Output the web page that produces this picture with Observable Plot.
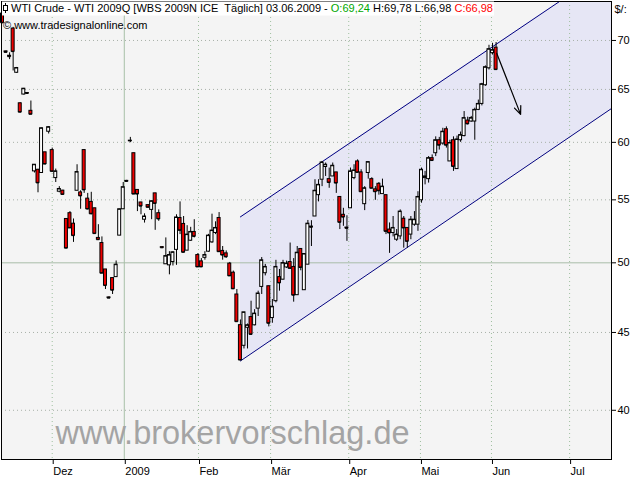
<!DOCTYPE html>
<html><head><meta charset="utf-8">
<script src="https://cdn.jsdelivr.net/npm/d3@7"></script>
<script src="https://cdn.jsdelivr.net/npm/@observablehq/plot@0.6"></script>
<style>body{margin:0;background:#fff}</style>
</head><body><div id="chart"></div>
<script>
// Daily candles, WTI 2009Q (trading-day index 0..139)
const open = [72.9,68.85,68.4,71.27,66.66,63.65,64.5,64.65,62.93,57.42,57.56,57.28,59.1,60.97,59.3,56.84,55.68,55.77,53.43,53.9,
53.05,55.76,55.62,59.3,55.1,54.83,54.3,51.92,51.52,49.5,47.45,48.86,48.93,52.1,54.22,56.6,60.1,59.02,55.83,54.78,
53.37,54.56,54.17,55.54,53.9,51.2,49.89,49.81,50.06,50.99,53.51,53.03,50.93,51.7,52.39,50.59,50.11,50.38,50.85,51.57,
52.31,53.51,50.91,50.72,49.94,49.26,47.66,45.5,44.1,45.32,46.06,45.49,46.65,48.21,49.22,48.26,45.99,47.18,48.93,48.74,
49.65,50.06,49.69,47.61,51.06,47.97,49.86,52.82,53.63,55.39,56.7,57.8,56.75,56.98,57.33,55.24,53.77,52.74,54.3,56.84,
58.29,57.33,54.64,57.28,56.75,55.88,56.35,55.48,55.39,52.58,52.31,51.78,52.04,53.45,52.71,52.18,52.97,52.97,54.96,56.84,
56.75,58.58,59.02,60.19,59.89,61.2,58.29,60.19,57.62,60.19,60.57,62.01,61.92,61.92,63.02,63.59,65.41,67.11,68.67,69.24];
const high = [73.2,68.9,68.7,71.4,67.2,63.7,65.1,64.7,63.87,58.0,57.6,61.3,59.1,61.45,59.48,57.62,56.11,55.8,53.45,54.03,
53.43,58.0,55.76,59.3,55.54,55.63,54.3,52.97,52.0,49.5,47.5,48.86,50.14,54.22,56.46,56.65,60.45,59.02,55.83,54.8,
53.85,54.6,54.9,55.55,54.17,51.25,51.92,50.85,50.85,53.77,54.83,53.63,52.89,52.76,53.37,50.7,50.32,50.85,52.2,53.82,
53.2,53.95,51.25,50.91,50.03,49.38,48.02,45.86,46.39,45.58,47.18,46.58,47.9,50.4,49.88,48.26,47.3,50.19,49.5,50.19,
50.13,51.52,50.32,51.25,51.06,50.67,53.31,53.29,56.7,56.7,58.29,58.15,57.71,58.15,57.33,55.24,54.3,53.69,57.71,58.0,
58.43,57.56,56.11,58.23,56.87,56.11,56.46,56.75,55.39,53.11,53.63,52.58,54.17,53.63,52.71,53.63,54.03,55.68,57.71,57.42,
58.72,58.87,60.5,60.45,61.29,61.42,60.19,60.5,60.57,60.94,62.86,62.33,62.4,63.18,63.96,65.6,67.35,69.49,69.7,69.78];
const low = [71.8,68.7,68.0,66.84,66.6,62.75,64.45,64.55,62.6,57.28,55.59,57.25,58.0,60.76,57.4,56.46,55.59,55.43,51.1,52.7,
51.57,55.76,54.22,55.54,54.17,53.77,52.26,51.72,49.2,48.02,47.35,47.66,48.9,52.1,54.2,56.5,59.97,55.48,54.03,53.77,
53.1,54.35,53.37,52.52,53.24,51.1,49.89,49.1,49.76,49.81,52.18,50.8,50.93,51.65,51.92,49.65,49.69,50.2,50.8,51.5,
52.18,50.8,50.2,50.35,49.0,48.07,45.74,43.16,43.89,43.89,44.81,45.45,46.1,47.66,49.02,45.38,45.63,47.06,47.9,48.74,
49.58,49.58,47.11,47.61,49.4,47.97,49.86,51.25,53.63,54.83,56.11,56.98,55.97,56.98,55.54,52.58,52.84,51.65,54.3,56.7,
57.33,55.68,54.11,56.75,55.97,54.96,55.39,55.48,52.18,50.72,52.0,51.65,51.78,51.12,51.12,51.78,52.84,52.44,54.72,56.26,
56.41,58.29,58.72,59.3,59.74,59.48,58.29,57.42,57.62,60.0,60.5,61.6,61.85,60.19,62.95,63.4,65.31,66.94,68.47,66.98];
const close = [71.9,68.75,68.3,68.83,67.14,62.8,65.07,64.6,62.6,58.0,56.43,61.29,58.06,61.39,57.42,57.42,55.91,55.45,51.12,52.71,
52.1,57.36,55.33,55.83,54.24,53.85,52.26,51.78,49.22,48.31,47.4,47.97,49.86,54.22,56.06,56.55,60.15,55.48,55.48,54.48,
53.63,54.38,54.88,54.7,53.43,51.15,50.51,50.59,50.8,53.55,52.52,50.8,52.18,52.39,52.04,49.69,49.69,50.59,52.1,52.5,
52.71,50.85,50.59,50.45,49.02,48.07,45.74,43.16,46.39,45.49,44.87,46.3,47.73,50.19,49.69,45.63,46.78,49.69,48.5,49.98,
49.94,49.58,47.61,50.77,49.65,50.67,53.05,52.76,55.76,56.26,58.2,58.0,56.46,57.91,56.41,53.16,53.58,52.68,57.42,57.5,
57.33,55.68,55.97,58.23,55.97,55.68,55.76,56.11,52.44,52.31,52.71,52.18,54.03,52.71,51.65,53.37,53.37,55.24,57.56,56.98,
58.58,58.37,60.19,59.74,60.97,59.74,59.94,57.85,60.26,60.66,62.24,61.7,62.24,63.02,63.59,65.51,67.22,69.08,68.98,66.98];

// Axis ticks (trading-day index of month starts) and labels
const monthTicks = [14, 34.3, 55.2, 75.5, 97.5, 117.7, 137.7, 159.7];
const monthLabels = ["Dez", "2009", "Feb", "Mär", "Apr", "Mai", "Jun", "Jul"];
const yearTick = 34.3;
const priceTicks = [40, 45, 50, 55, 60, 65, 70];

// Trend channel and arrow (index, price)
const channelX = [67, 171.5];
const channelLower = [43.1, 63.15];
const channelUpper = [53.6, 78.3];
const arrowX = [139.2, 145.9];
const arrowY = [68.64, 62.59];

const candles = open.map((o, i) => ({i, o, h: high[i], l: low[i], c: close[i], up: close[i] > o}));
const half = 0.42;

const chart = Plot.plot({
  width: 640, height: 480,
  marginLeft: 1, marginRight: 29, marginTop: 1, marginBottom: 21,
  style: {fontFamily: "'Liberation Sans', Arial, sans-serif", fontSize: "11px", background: "#fff", color: "#000"},
  x: {type: "linear", domain: [-0.28, 171.5], axis: null, label: null},
  y: {type: "log", domain: [37.13, 74.25], axis: null, label: null},
  marks: [
    Plot.frame({fill: "#f4f4f4", stroke: "none"}),
    Plot.areaY([0, 1], {x: i => channelX[i], y1: i => channelLower[i], y2: i => channelUpper[i], fill: "#e6e6f5", clip: true}),
    Plot.ruleX(monthTicks.filter(t => t !== yearTick), {stroke: "#9fbf9f", strokeDasharray: "1,3"}),
    Plot.ruleX([yearTick], {stroke: "#a8c0a8"}),
    Plot.ruleY(priceTicks.filter(p => p !== 50), {stroke: "#a8b0a8", strokeDasharray: "1,3"}),
    Plot.ruleY([50], {stroke: "#a8bca8"}),
    Plot.line([0, 1], {x: i => channelX[i], y: i => channelUpper[i], stroke: "#000080", strokeWidth: 1, clip: true}),
    Plot.line([0, 1], {x: i => channelX[i], y: i => channelLower[i], stroke: "#000080", strokeWidth: 1, clip: true}),
    Plot.ruleX(candles, {x: "i", y1: "l", y2: "h", stroke: "#000", strokeWidth: 1}),
    Plot.rect(candles, {x1: d => d.i - half, x2: d => d.i + half, y1: "o", y2: "c",
      fill: d => d.up ? "#ffffff" : "#ee0000", stroke: "#000", strokeWidth: 1}),
    Plot.ruleY(candles, {y: "c", x1: d => d.i - half, x2: d => d.i + half, stroke: "#000", strokeWidth: 1}),
    Plot.arrow([0], {x1: () => arrowX[0], y1: () => arrowY[0], x2: () => arrowX[1], y2: () => arrowY[1],
      stroke: "#000", strokeWidth: 1.2, headLength: 11, headAngle: 45}),
    Plot.text(["www.brokervorschlag.de"], {frameAnchor: "bottom-left", dx: 54, dy: -16, textAnchor: "start",
      lineAnchor: "bottom", fontSize: 32.5, fill: "#a4a4a4", fontFamily: "'Liberation Sans', Arial, sans-serif"}),
    Plot.frame({stroke: "#000", strokeWidth: 1}),
    Plot.axisY(priceTicks, {anchor: "right", label: null, tickSize: 4, tickPadding: 2, tickFormat: d => String(d), fontSize: 11}),
    Plot.axisX(monthTicks, {anchor: "bottom", label: null, tickSize: 5, tickPadding: 3, textAnchor: "start", dx: 1,
      tickFormat: d => monthLabels[monthTicks.indexOf(d)], fontSize: 11}),
    Plot.text(["$/:"], {frameAnchor: "top-right", dx: 3, dy: 4, textAnchor: "start", lineAnchor: "top", fontSize: 11})
  ]
});

// Header inside the plot: instrument line with coloured OHLC, and source line
const svg = d3.select(chart);
const g = svg.append("g").attr("font-family", "'Liberation Sans', Arial, sans-serif")
  .attr("font-size", 11).attr("text-anchor", "start");
g.append("rect").attr("x", 2).attr("y", 1.5).attr("width", 492).attr("height", 14).attr("fill", "#fff");
g.append("line").attr("x1", 5.5).attr("x2", 5.5).attr("y1", 3).attr("y2", 13).attr("stroke", "#000");
g.append("rect").attr("x", 3.5).attr("y", 5.5).attr("width", 4).attr("height", 5).attr("fill", "#fff").attr("stroke", "#000");
const t = g.append("text").attr("x", 11).attr("y", 12).attr("text-anchor", "start")
  .attr("textLength", 482).attr("lengthAdjust", "spacingAndGlyphs");
t.append("tspan").attr("fill", "#000").text("WTI Crude - WTI 2009Q [WBS 2009N ICE\u00a0 Täglich] 03.06.2009 - ");
t.append("tspan").attr("fill", "#00a800").text("O:69,24");
t.append("tspan").attr("fill", "#000").text(" H:69,78 L:66,98 ");
t.append("tspan").attr("fill", "#ff0000").text("C:66,98");
g.append("text").attr("x", 3).attr("y", 28.5).attr("text-anchor", "start").attr("fill", "#000")
  .text("© www.tradesignalonline.com");

document.getElementById("chart").appendChild(chart);
</script>
</body></html>
